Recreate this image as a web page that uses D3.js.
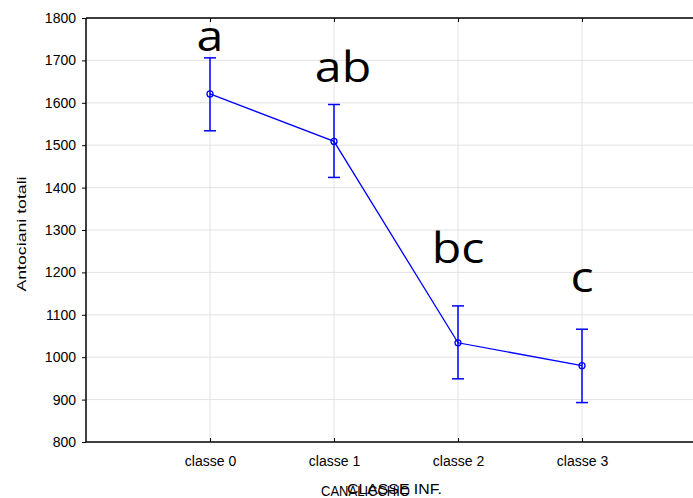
<!DOCTYPE html>
<html>
<head>
<meta charset="utf-8">
<script src="https://cdn.jsdelivr.net/npm/d3@7"></script>
<style>
  body { margin: 0; background: #fff; }
  svg { display: block; }
</style>
</head>
<body>
<script>
// dati
var categories = ["classe 0", "classe 1", "classe 2", "classe 3"];
var means = [1621, 1509, 1034, 980];
var upper = [1706, 1596, 1121, 1066];
var lower = [1534, 1424, 949, 893];
var letters = ["a", "ab", "bc", "c"];
var yTicks = [800, 900, 1000, 1100, 1200, 1300, 1400, 1500, 1600, 1700, 1800];

var W = 693, H = 498;
var plotLeft = 86, plotTop = 18, plotBottom = 442;

var svg = d3.select("body").append("svg")
    .attr("width", W)
    .attr("height", H);

// asse x: le classi stanno a 1..4 su una scala 0..5
var x = d3.scaleLinear().domain([0, 5]).range([plotLeft, 706]);
var y = d3.scaleLinear().domain([800, 1800]).range([plotBottom, plotTop]);

//griglia
var grid = svg.append("g").attr("id", "grid");
grid.selectAll("line.h")
    .data(yTicks.slice(1))
    .enter()
    .append("line")
    .attr("class", "h")
    .attr("x1", plotLeft)
    .attr("x2", W)
    .attr("y1", function (d) { return y(d); })
    .attr("y2", function (d) { return y(d); })
    .attr("stroke", "#e2e2e2")
    .attr("stroke-width", 1);
grid.selectAll("line.v")
    .data(categories)
    .enter()
    .append("line")
    .attr("class", "v")
    .attr("x1", function (d, i) { return x(i + 1); })
    .attr("x2", function (d, i) { return x(i + 1); })
    .attr("y1", plotTop)
    .attr("y2", plotBottom)
    .attr("stroke", "#e2e2e2")
    .attr("stroke-width", 1);

// assi
var yAxis = d3.axisLeft(y).tickValues(yTicks).tickSize(4).tickPadding(6)
    .tickFormat(d3.format("d"));
var gy = svg.append("g")
    .attr("transform", "translate(" + plotLeft + ",0)")
    .call(yAxis);
gy.select(".domain").remove();
gy.selectAll("text")
    .attr("font-family", "Liberation Sans, Arial, sans-serif")
    .attr("font-size", 14)
    .attr("fill", "#000");

var xAxis = d3.axisBottom(x)
    .tickValues([1, 2, 3, 4])
    .tickSize(-4)
    .tickPadding(14)
    .tickFormat(function (d) { return categories[d - 1]; });
var gx = svg.append("g")
    .attr("transform", "translate(0," + plotBottom + ")")
    .call(xAxis);
gx.select(".domain").remove();
gx.selectAll("text")
    .attr("font-family", "Liberation Sans, Arial, sans-serif")
    .attr("font-size", 14)
    .attr("fill", "#000");

var gxTop = svg.append("g")
    .attr("transform", "translate(0," + plotTop + ")")
    .call(d3.axisTop(x).tickValues([1, 2, 3, 4]).tickSize(-4).tickFormat(""));
gxTop.select(".domain").remove();

// linee di bordo
svg.append("line")
    .attr("x1", plotLeft).attr("x2", plotLeft)
    .attr("y1", plotTop).attr("y2", plotBottom)
    .attr("stroke", "#000").attr("stroke-width", 1.5);
svg.append("line")
    .attr("x1", plotLeft).attr("x2", W)
    .attr("y1", plotTop).attr("y2", plotTop)
    .attr("stroke", "#000").attr("stroke-width", 1.5);
svg.append("line")
    .attr("x1", plotLeft).attr("x2", W)
    .attr("y1", plotBottom).attr("y2", plotBottom)
    .attr("stroke", "#000").attr("stroke-width", 1.5);

// barre di errore
var eb = svg.append("g").attr("id", "errorbars");
categories.forEach(function (c, i) {
    var cx = x(i + 1);
    eb.append("line")
        .attr("x1", cx).attr("x2", cx)
        .attr("y1", y(upper[i])).attr("y2", y(lower[i]))
        .attr("stroke", "#0000ff").attr("stroke-width", 1.5);
    eb.append("line")
        .attr("x1", cx - 6).attr("x2", cx + 6)
        .attr("y1", y(upper[i])).attr("y2", y(upper[i]))
        .attr("stroke", "#0000ff").attr("stroke-width", 1.5);
    eb.append("line")
        .attr("x1", cx - 6).attr("x2", cx + 6)
        .attr("y1", y(lower[i])).attr("y2", y(lower[i]))
        .attr("stroke", "#0000ff").attr("stroke-width", 1.5);
});

// linea delle medie
var line = d3.line()
    .x(function (d, i) { return x(i + 1); })
    .y(function (d) { return y(d); });
svg.append("path")
    .datum(means)
    .attr("d", line)
    .attr("fill", "none")
    .attr("stroke", "#0000ff")
    .attr("stroke-width", 1.3);

svg.append("g").selectAll("circle")
    .data(means)
    .enter()
    .append("circle")
    .attr("cx", function (d, i) { return x(i + 1); })
    .attr("cy", function (d) { return y(d); })
    .attr("r", 3)
    .attr("fill", "none")
    .attr("stroke", "#0000ff")
    .attr("stroke-width", 1.3);

// lettere di significatività
var letterPos = [[0, 1722], [9, 1650], [0, 1222], [0, 1154]];
svg.append("g").selectAll("text")
    .data(letters)
    .enter()
    .append("text")
    .attr("transform", function (d, i) {
        return "translate(" + (x(i + 1) + letterPos[i][0]) + "," + y(letterPos[i][1]) + ") scale(1.15,1)";
    })
    .attr("text-anchor", "middle")
    .attr("font-family", "Open Sans, sans-serif")
    .attr("font-size", 42)
    .attr("fill", "#000")
    .text(function (d) { return d; });

// titoli degli assi
svg.append("text")
    .attr("transform", "translate(26," + ((plotTop + plotBottom) / 2 + 4) + ") rotate(-90)")
    .attr("text-anchor", "middle")
    .attr("font-family", "Liberation Sans, Arial, sans-serif")
    .attr("font-size", 13)
    .attr("textLength", 115)
    .attr("lengthAdjust", "spacingAndGlyphs")
    .text("Antociani totali");

svg.append("text")
    .attr("x", 321)
    .attr("y", 496)
    .attr("font-family", "Liberation Sans, Arial, sans-serif")
    .attr("font-size", 14)
    .attr("textLength", 89)
    .attr("lengthAdjust", "spacingAndGlyphs")
    .text("CANALICCHIO");
svg.append("text")
    .attr("x", 347)
    .attr("y", 494)
    .attr("font-family", "Liberation Sans, Arial, sans-serif")
    .attr("font-size", 14)
    .attr("textLength", 95)
    .attr("lengthAdjust", "spacingAndGlyphs")
    .text("CLASSE INF.");
</script>
</body>
</html>
